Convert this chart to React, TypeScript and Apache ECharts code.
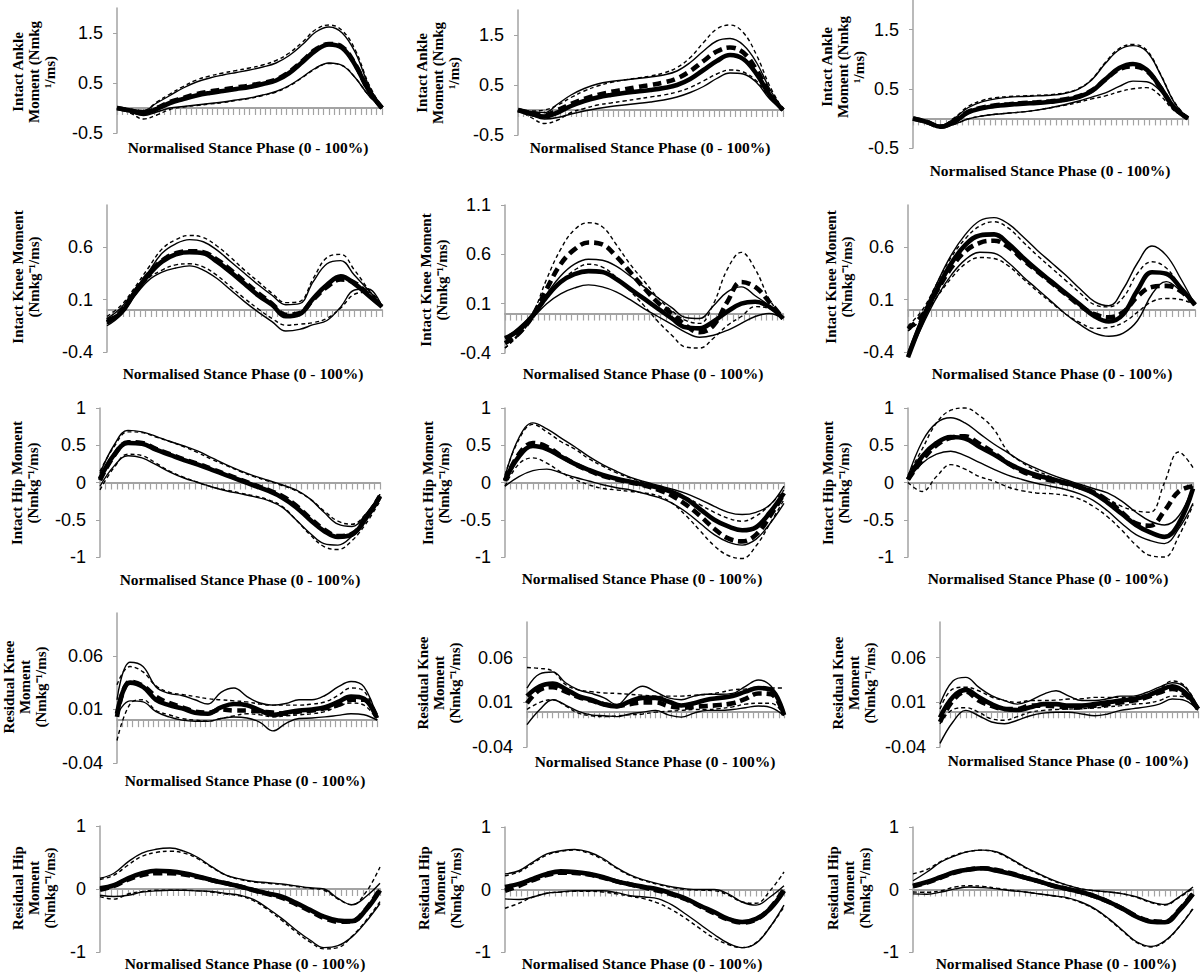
import React, { useEffect, useRef } from "react";
import * as echarts from "echarts";

// Normalised stance phase sample points (%)
const xs = [0, 5, 10, 15, 20, 25, 30, 35, 40, 45, 50, 55, 60, 65, 70, 75, 80, 85, 90, 95, 100];

// ---------- Row 1: Intact Ankle Moment ----------
const p11MeanSolid = [0, -0.05, -0.1, -0.02, 0.1, 0.18, 0.25, 0.3, 0.34, 0.38, 0.42, 0.48, 0.55, 0.7, 0.92, 1.15, 1.27, 1.2, 0.85, 0.35, 0];
const p11MeanDash = [0, -0.05, -0.1, 0, 0.12, 0.2, 0.28, 0.33, 0.37, 0.41, 0.45, 0.5, 0.57, 0.72, 0.94, 1.17, 1.28, 1.22, 0.86, 0.35, 0];
const p11UpSolid = [0, -0.03, -0.05, 0.1, 0.25, 0.4, 0.52, 0.6, 0.66, 0.71, 0.76, 0.82, 0.9, 1.05, 1.27, 1.52, 1.62, 1.5, 1.1, 0.45, 0];
const p11UpDash = [0, -0.03, -0.05, 0.12, 0.28, 0.43, 0.56, 0.64, 0.7, 0.75, 0.8, 0.86, 0.95, 1.1, 1.32, 1.57, 1.66, 1.55, 1.15, 0.48, 0];
const p11LoSolid = [0, -0.08, -0.15, -0.08, 0, 0.03, 0.06, 0.09, 0.12, 0.16, 0.2, 0.26, 0.33, 0.45, 0.62, 0.8, 0.9, 0.85, 0.6, 0.25, 0];
const p11LoDash = [0, -0.1, -0.22, -0.14, -0.03, 0.02, 0.05, 0.08, 0.11, 0.15, 0.19, 0.25, 0.32, 0.44, 0.61, 0.79, 0.89, 0.85, 0.6, 0.25, 0];

const p12MeanSolid = [0, -0.08, -0.13, -0.05, 0.08, 0.18, 0.25, 0.3, 0.34, 0.37, 0.4, 0.44, 0.5, 0.62, 0.8, 0.98, 1.1, 1.02, 0.72, 0.3, 0];
const p12MeanDash = [0, -0.06, -0.1, 0, 0.12, 0.22, 0.3, 0.36, 0.41, 0.46, 0.5, 0.55, 0.63, 0.78, 0.98, 1.17, 1.25, 1.15, 0.8, 0.33, 0];
const p12UpSolid = [0, -0.03, -0.05, 0.12, 0.3, 0.43, 0.52, 0.57, 0.6, 0.63, 0.66, 0.7, 0.78, 0.95, 1.18, 1.38, 1.43, 1.3, 0.95, 0.42, 0];
const p12UpDash = [0, -0.02, 0, 0.1, 0.25, 0.38, 0.48, 0.55, 0.6, 0.64, 0.68, 0.74, 0.85, 1.05, 1.35, 1.62, 1.7, 1.55, 1.1, 0.48, 0];
const p12LoSolid = [0, -0.1, -0.18, -0.15, -0.08, -0.02, 0.03, 0.07, 0.1, 0.13, 0.16, 0.2, 0.26, 0.35, 0.47, 0.63, 0.74, 0.72, 0.55, 0.22, 0];
const p12LoDash = [0, -0.15, -0.27, -0.2, -0.05, 0.03, 0.1, 0.14, 0.18, 0.22, 0.26, 0.3, 0.36, 0.45, 0.58, 0.72, 0.8, 0.76, 0.58, 0.25, 0];

const p13MeanSolid = [0, -0.06, -0.14, -0.06, 0.1, 0.17, 0.21, 0.23, 0.25, 0.26, 0.28, 0.31, 0.36, 0.46, 0.66, 0.85, 0.92, 0.82, 0.52, 0.18, 0];
const p13MeanDash = [0, -0.06, -0.14, -0.05, 0.11, 0.18, 0.22, 0.24, 0.26, 0.27, 0.29, 0.32, 0.37, 0.47, 0.66, 0.83, 0.88, 0.8, 0.52, 0.18, 0];
const p13UpSolid = [0, -0.05, -0.12, 0, 0.18, 0.28, 0.33, 0.36, 0.37, 0.38, 0.39, 0.42, 0.49, 0.65, 0.93, 1.16, 1.23, 1.13, 0.74, 0.27, 0];
const p13UpDash = [0, -0.05, -0.12, 0.01, 0.2, 0.3, 0.35, 0.37, 0.38, 0.39, 0.4, 0.43, 0.5, 0.66, 0.95, 1.18, 1.25, 1.15, 0.75, 0.28, 0];
const p13LoSolid = [0, -0.06, -0.15, -0.1, -0.01, 0.04, 0.07, 0.09, 0.11, 0.14, 0.18, 0.23, 0.29, 0.36, 0.43, 0.54, 0.63, 0.62, 0.46, 0.16, 0];
const p13LoDash = [0, -0.06, -0.15, -0.1, -0.01, 0.04, 0.07, 0.09, 0.11, 0.14, 0.18, 0.22, 0.27, 0.33, 0.38, 0.45, 0.5, 0.52, 0.38, 0.13, 0];

// ---------- Row 2: Intact Knee Moment ----------
const p21MeanSolid = [-0.1, -0.03, 0.16, 0.33, 0.46, 0.53, 0.55, 0.54, 0.46, 0.36, 0.25, 0.14, 0.05, -0.06, -0.04, 0.11, 0.24, 0.32, 0.25, 0.14, 0.03];
const p21MeanDash = [-0.12, -0.02, 0.17, 0.34, 0.47, 0.54, 0.56, 0.55, 0.48, 0.38, 0.27, 0.16, 0.06, -0.045, -0.03, 0.1, 0.22, 0.29, 0.26, 0.15, 0.03];
const p21UpSolid = [-0.08, 0.02, 0.19, 0.36, 0.54, 0.63, 0.67, 0.65, 0.57, 0.46, 0.35, 0.24, 0.14, 0.05, 0.06, 0.27, 0.44, 0.47, 0.33, 0.19, 0.04];
const p21UpDash = [-0.06, 0.04, 0.21, 0.4, 0.58, 0.67, 0.71, 0.69, 0.61, 0.5, 0.38, 0.27, 0.16, 0.07, 0.08, 0.3, 0.5, 0.53, 0.38, 0.2, 0.04];
const p21LoSolid = [-0.15, -0.05, 0.13, 0.28, 0.36, 0.4, 0.42, 0.38, 0.3, 0.19, 0.08, -0.02, -0.11, -0.2, -0.185, -0.14, -0.1, 0.03, 0.19, 0.2, 0.03];
const p21LoDash = [-0.13, -0.04, 0.14, 0.3, 0.38, 0.43, 0.44, 0.41, 0.33, 0.22, 0.11, 0.01, -0.08, -0.145, -0.135, -0.12, -0.08, 0.02, 0.15, 0.17, 0.04];

const p22MeanSolid = [-0.25, -0.17, -0.02, 0.17, 0.32, 0.4, 0.43, 0.42, 0.35, 0.25, 0.15, 0.05, -0.05, -0.14, -0.15, -0.08, 0.02, 0.1, 0.12, 0.07, -0.05];
const p22MeanDash = [-0.3, -0.2, -0.02, 0.25, 0.5, 0.65, 0.72, 0.7, 0.58, 0.42, 0.26, 0.11, 0, -0.12, -0.19, -0.12, 0.12, 0.32, 0.27, 0.12, -0.05];
const p22UpSolid = [-0.25, -0.14, 0, 0.2, 0.38, 0.5, 0.55, 0.54, 0.48, 0.38, 0.27, 0.16, 0.06, -0.04, -0.05, 0.08, 0.22, 0.27, 0.18, 0.08, -0.05];
const p22UpDash = [-0.35, -0.2, 0, 0.35, 0.65, 0.85, 0.92, 0.88, 0.7, 0.5, 0.33, 0.16, 0.03, -0.07, -0.1, 0.1, 0.45, 0.62, 0.45, 0.15, -0.05];
const p22LoSolid = [-0.25, -0.16, -0.04, 0.1, 0.2, 0.26, 0.29, 0.27, 0.22, 0.14, 0.05, -0.03, -0.11, -0.19, -0.24, -0.22, -0.17, -0.1, -0.03, 0, -0.05];
const p22LoDash = [-0.35, -0.22, -0.05, 0.15, 0.32, 0.44, 0.5, 0.47, 0.37, 0.23, 0.08, -0.08, -0.22, -0.34, -0.35, -0.25, -0.12, -0.03, 0.07, 0.05, -0.05];

const p23MeanSolid = [-0.45, -0.1, 0.19, 0.44, 0.62, 0.71, 0.72, 0.63, 0.5, 0.38, 0.27, 0.16, 0.05, -0.06, -0.11, -0.04, 0.19, 0.36, 0.345, 0.21, 0.05];
const p23MeanDash = [-0.18, -0.05, 0.18, 0.4, 0.56, 0.64, 0.66, 0.6, 0.48, 0.37, 0.26, 0.15, 0.04, -0.04, -0.07, -0.02, 0.13, 0.22, 0.23, 0.18, 0.05];
const p23UpSolid = [-0.4, -0.05, 0.25, 0.52, 0.72, 0.85, 0.88, 0.82, 0.7, 0.57, 0.45, 0.33, 0.2, 0.08, 0.04, 0.2, 0.45, 0.61, 0.52, 0.3, 0.05];
const p23UpDash = [-0.15, 0, 0.25, 0.5, 0.68, 0.8, 0.84, 0.78, 0.65, 0.52, 0.4, 0.28, 0.16, 0.05, 0.03, 0.12, 0.35, 0.46, 0.4, 0.22, 0.05];
const p23LoSolid = [-0.45, -0.15, 0.12, 0.33, 0.48, 0.55, 0.54, 0.45, 0.32, 0.2, 0.08, -0.04, -0.14, -0.22, -0.25, -0.22, -0.1, 0.15, 0.27, 0.18, 0.05];
const p23LoDash = [-0.2, -0.08, 0.12, 0.3, 0.44, 0.5, 0.49, 0.42, 0.3, 0.18, 0.07, -0.04, -0.12, -0.175, -0.165, -0.12, -0.02, 0.08, 0.11, 0.1, 0.05];

// ---------- Row 3: Intact Hip Moment ----------
const p31MeanSolid = [0.05, 0.37, 0.53, 0.52, 0.44, 0.37, 0.3, 0.24, 0.17, 0.1, 0.03, -0.04, -0.11, -0.2, -0.33, -0.5, -0.65, -0.73, -0.7, -0.48, -0.19];
const p31MeanDash = [0.03, 0.36, 0.54, 0.53, 0.45, 0.38, 0.31, 0.25, 0.18, 0.11, 0.04, -0.03, -0.1, -0.18, -0.31, -0.48, -0.63, -0.72, -0.69, -0.47, -0.18];
const p31UpSolid = [0.12, 0.5, 0.7, 0.68, 0.62, 0.55, 0.49, 0.42, 0.33, 0.24, 0.16, 0.09, 0.03, -0.03, -0.1, -0.22, -0.4, -0.56, -0.59, -0.42, -0.16];
const p31UpDash = [0.15, 0.48, 0.68, 0.67, 0.61, 0.55, 0.48, 0.4, 0.31, 0.23, 0.15, 0.08, 0.02, -0.04, -0.11, -0.22, -0.38, -0.52, -0.56, -0.42, -0.16];
const p31LoSolid = [-0.05, 0.22, 0.36, 0.33, 0.24, 0.14, 0.06, 0, -0.06, -0.11, -0.15, -0.19, -0.24, -0.33, -0.5, -0.68, -0.82, -0.84, -0.72, -0.5, -0.23];
const p31LoDash = [-0.1, 0.2, 0.38, 0.36, 0.26, 0.15, 0.07, 0, -0.06, -0.1, -0.14, -0.18, -0.23, -0.32, -0.5, -0.7, -0.86, -0.9, -0.78, -0.55, -0.25];

const p32MeanSolid = [0.03, 0.35, 0.49, 0.45, 0.35, 0.25, 0.17, 0.1, 0.05, 0.01, -0.03, -0.07, -0.13, -0.22, -0.36, -0.5, -0.59, -0.64, -0.6, -0.4, -0.14];
const p32MeanDash = [0.02, 0.38, 0.53, 0.48, 0.36, 0.25, 0.16, 0.09, 0.04, 0, -0.04, -0.1, -0.18, -0.3, -0.45, -0.62, -0.75, -0.79, -0.7, -0.45, -0.15];
const p32UpSolid = [0.08, 0.6, 0.8, 0.72, 0.6, 0.48, 0.35, 0.24, 0.15, 0.07, 0.01, -0.04, -0.09, -0.15, -0.23, -0.32, -0.4, -0.43, -0.4, -0.3, -0.05];
const p32UpDash = [0.1, 0.58, 0.78, 0.68, 0.55, 0.45, 0.32, 0.22, 0.13, 0.06, 0, -0.06, -0.12, -0.2, -0.3, -0.4, -0.48, -0.52, -0.45, -0.3, -0.1];
const p32LoSolid = [-0.05, 0.08, 0.16, 0.18, 0.13, 0.07, 0.02, -0.03, -0.07, -0.1, -0.15, -0.2, -0.28, -0.4, -0.55, -0.7, -0.8, -0.84, -0.76, -0.55, -0.28];
const p32LoDash = [-0.05, 0.25, 0.33, 0.26, 0.14, 0.04, -0.03, -0.08, -0.1, -0.12, -0.14, -0.18, -0.28, -0.45, -0.65, -0.85, -0.98, -1.02, -0.85, -0.55, -0.23];

const p33MeanSolid = [0.04, 0.35, 0.53, 0.61, 0.59, 0.48, 0.38, 0.26, 0.17, 0.1, 0.05, 0, -0.06, -0.14, -0.27, -0.42, -0.57, -0.67, -0.73, -0.55, -0.08];
const p33MeanDash = [0.04, 0.3, 0.5, 0.6, 0.62, 0.52, 0.4, 0.26, 0.15, 0.08, 0.03, -0.01, -0.06, -0.13, -0.24, -0.4, -0.55, -0.58, -0.38, -0.12, -0.05];
const p33UpSolid = [0.08, 0.55, 0.8, 0.87, 0.8, 0.66, 0.52, 0.4, 0.28, 0.19, 0.11, 0.04, -0.02, -0.08, -0.14, -0.25, -0.4, -0.52, -0.57, -0.45, -0.05];
const p33UpDash = [0.1, 0.45, 0.8, 0.97, 1.0, 0.9, 0.72, 0.42, 0.27, 0.16, 0.08, 0, -0.06, -0.14, -0.22, -0.32, -0.38, -0.4, 0, 0.41, 0.2];
const p33LoSolid = [0.04, 0.26, 0.38, 0.42, 0.36, 0.27, 0.18, 0.1, 0.04, -0.01, -0.05, -0.09, -0.15, -0.24, -0.38, -0.55, -0.7, -0.78, -0.82, -0.62, -0.28];
const p33LoDash = [0, -0.12, 0.08, 0.24, 0.18, 0.08, 0.02, -0.06, -0.11, -0.14, -0.15, -0.17, -0.22, -0.32, -0.46, -0.64, -0.84, -0.98, -1.0, -0.72, -0.3];

// ---------- Row 4: Residual Knee Moment ----------
const p41MeanSolid = [0.006, 0.035, 0.031, 0.019, 0.014, 0.011, 0.007, 0.006, 0.012, 0.015, 0.014, 0.009, 0.005, 0.007, 0.009, 0.01, 0.012, 0.017, 0.022, 0.02, 0.002];
const p41MeanDash = [0.003, 0.036, 0.032, 0.022, 0.016, 0.012, 0.008, 0.007, 0.01, 0.009, 0.009, 0.008, 0.007, 0.006, 0.008, 0.009, 0.011, 0.014, 0.019, 0.019, 0.002];
const p41UpSolid = [0.019, 0.054, 0.05, 0.031, 0.025, 0.023, 0.019, 0.015, 0.026, 0.03, 0.022, 0.016, 0.014, 0.0155, 0.019, 0.019, 0.023, 0.031, 0.036, 0.031, 0.002];
const p41UpDash = [0.033, 0.05, 0.045, 0.032, 0.026, 0.024, 0.022, 0.02, 0.019, 0.018, 0.017, 0.015, 0.014, 0.014, 0.014, 0.015, 0.017, 0.023, 0.03, 0.027, 0.002];
const p41LoSolid = [0.005, 0.018, 0.017, 0.008, 0.003, 0, -0.001, -0.001, 0.0015, 0.003, 0.002, -0.002, -0.01, -0.003, 0.0015, 0.002, 0.003, 0.0045, 0.006, 0.005, 0];
const p41LoDash = [-0.019, 0.015, 0.019, 0.009, 0.005, 0.0015, 0, -0.001, 0.0015, 0.004, 0.006, 0.005, 0.003, 0.004, 0.005, 0.006, 0.008, 0.013, 0.016, 0.014, 0];

const p42MeanSolid = [0.017, 0.028, 0.031, 0.025, 0.017, 0.013, 0.0075, 0.0055, 0.011, 0.015, 0.015, 0.011, 0.0065, 0.009, 0.013, 0.015, 0.017, 0.022, 0.026, 0.024, -0.004];
const p42MeanDash = [0.009, 0.024, 0.027, 0.022, 0.016, 0.012, 0.008, 0.006, 0.008, 0.01, 0.01, 0.006, 0.004, 0.005, 0.006, 0.007, 0.009, 0.014, 0.02, 0.019, -0.004];
const p42UpSolid = [0.026, 0.042, 0.044, 0.032, 0.024, 0.02, 0.015, 0.0075, 0.02, 0.028, 0.022, 0.015, 0.013, 0.017, 0.019, 0.019, 0.02, 0.028, 0.035, 0.028, 0];
const p42UpDash = [0.049, 0.048, 0.045, 0.03, 0.024, 0.022, 0.0205, 0.02, 0.019, 0.018, 0.017, 0.017, 0.017, 0.018, 0.019, 0.021, 0.024, 0.025, 0.026, 0.026, 0.026];
const p42LoSolid = [-0.015, 0.002, 0.013, 0.007, 0, -0.004, -0.005, -0.006, -0.003, -0.001, 0.001, -0.004, -0.0065, -0.002, 0.001, 0.001, 0.002, 0.004, 0.006, 0.004, -0.005];
const p42LoDash = [0.002, 0.01, 0.013, 0.006, -0.002, -0.005, -0.006, -0.005, -0.004, -0.003, -0.001, 0, 0.001, 0.002, 0.002, 0.003, 0.005, 0.008, 0.009, 0.009, -0.004];

const p43MeanSolid = [-0.007, 0.016, 0.024, 0.016, 0.008, 0.0026, 0.0015, 0.0044, 0.008, 0.008, 0.0063, 0.0063, 0.008, 0.01, 0.012, 0.0137, 0.017, 0.023, 0.028, 0.021, 0.0026];
const p43MeanDash = [-0.012, 0.012, 0.022, 0.012, 0.006, 0.0026, 0.0026, 0.0063, 0.0063, 0.0055, 0.004, 0.0045, 0.0063, 0.008, 0.01, 0.012, 0.0156, 0.021, 0.025, 0.019, 0.0026];
const p43UpSolid = [0.008, 0.034, 0.038, 0.027, 0.0175, 0.012, 0.008, 0.012, 0.019, 0.023, 0.017, 0.012, 0.012, 0.014, 0.017, 0.017, 0.021, 0.027, 0.032, 0.027, 0.004];
const p43UpDash = [0.0026, 0.025, 0.027, 0.023, 0.016, 0.012, 0.01, 0.012, 0.012, 0.0125, 0.0137, 0.014, 0.0156, 0.0156, 0.0156, 0.016, 0.019, 0.025, 0.034, 0.028, 0.004];
const p43LoSolid = [-0.036, -0.012, 0.001, -0.005, -0.012, -0.014, -0.01, -0.005, -0.002, -0.001, -0.001, -0.003, -0.005, -0.003, 0.001, 0.003, 0.005, 0.008, 0.0137, 0.012, 0.001];
const p43LoDash = [-0.014, 0.002, 0.004, -0.001, -0.0085, -0.01, -0.006, -0.001, 0.001, 0.002, 0.0026, 0.003, 0.0037, 0.005, 0.0063, 0.008, 0.009, 0.012, 0.017, 0.016, 0.0015];

// ---------- Row 5: Residual Hip Moment ----------
const p51MeanSolid = [0.01, 0.06, 0.17, 0.25, 0.29, 0.28, 0.25, 0.2, 0.14, 0.09, 0.04, -0.02, -0.07, -0.12, -0.22, -0.33, -0.44, -0.5, -0.51, -0.33, -0.02];
const p51MeanDash = [-0.01, 0.05, 0.15, 0.22, 0.25, 0.25, 0.23, 0.19, 0.14, 0.09, 0.04, -0.02, -0.08, -0.14, -0.24, -0.35, -0.46, -0.52, -0.51, -0.32, 0];
const p51UpSolid = [0.17, 0.25, 0.43, 0.57, 0.63, 0.65, 0.6, 0.5, 0.35, 0.22, 0.16, 0.12, 0.1, 0.08, 0.05, 0.02, 0, -0.15, -0.25, -0.12, 0.09];
const p51UpDash = [0.15, 0.22, 0.38, 0.52, 0.58, 0.6, 0.57, 0.48, 0.34, 0.22, 0.15, 0.11, 0.09, 0.07, 0.04, 0.01, -0.02, -0.16, -0.25, -0.05, 0.35];
const p51LoSolid = [-0.1, -0.12, -0.1, -0.05, -0.03, -0.02, -0.02, -0.03, -0.04, -0.07, -0.1, -0.17, -0.31, -0.47, -0.65, -0.81, -0.93, -0.9, -0.76, -0.52, -0.23];
const p51LoDash = [-0.12, -0.16, -0.08, -0.04, -0.02, -0.02, -0.02, -0.03, -0.05, -0.08, -0.11, -0.19, -0.33, -0.5, -0.68, -0.84, -0.95, -0.93, -0.75, -0.5, -0.2];

const p52MeanSolid = [0.04, 0.09, 0.17, 0.25, 0.29, 0.28, 0.25, 0.2, 0.13, 0.08, 0.04, 0, -0.07, -0.15, -0.26, -0.36, -0.47, -0.52, -0.47, -0.31, -0.02];
const p52MeanDash = [-0.02, 0.06, 0.15, 0.23, 0.27, 0.265, 0.24, 0.19, 0.13, 0.08, 0.03, -0.02, -0.08, -0.16, -0.27, -0.38, -0.48, -0.53, -0.48, -0.3, 0];
const p52UpSolid = [0.25, 0.3, 0.44, 0.57, 0.62, 0.64, 0.6, 0.5, 0.35, 0.23, 0.15, 0.09, 0.04, 0.01, 0, 0, -0.07, -0.2, -0.25, -0.12, 0.06];
const p52UpDash = [0.22, 0.28, 0.42, 0.55, 0.61, 0.63, 0.58, 0.48, 0.34, 0.22, 0.14, 0.08, 0.03, 0, -0.01, -0.02, -0.09, -0.2, -0.22, -0.02, 0.28];
const p52LoSolid = [-0.15, -0.16, -0.12, -0.06, -0.04, -0.02, -0.02, -0.02, -0.05, -0.1, -0.12, -0.15, -0.25, -0.4, -0.56, -0.72, -0.86, -0.93, -0.86, -0.6, -0.25];
const p52LoDash = [-0.3, -0.22, -0.12, -0.06, -0.04, -0.03, -0.03, -0.04, -0.07, -0.11, -0.15, -0.22, -0.33, -0.47, -0.63, -0.78, -0.88, -0.93, -0.85, -0.6, -0.28];

const p53MeanSolid = [0.06, 0.12, 0.2, 0.28, 0.32, 0.34, 0.3, 0.25, 0.19, 0.13, 0.06, 0.01, -0.04, -0.11, -0.2, -0.31, -0.44, -0.515, -0.525, -0.34, -0.07];
const p53MeanDash = [0.05, 0.11, 0.19, 0.27, 0.32, 0.34, 0.31, 0.26, 0.19, 0.13, 0.06, 0.01, -0.04, -0.11, -0.2, -0.31, -0.43, -0.505, -0.515, -0.33, -0.06];
const p53UpSolid = [0.14, 0.28, 0.44, 0.54, 0.61, 0.63, 0.6, 0.49, 0.36, 0.25, 0.15, 0.07, 0.01, -0.02, -0.04, -0.07, -0.12, -0.2, -0.24, -0.12, 0.04];
const p53UpDash = [0.25, 0.32, 0.45, 0.55, 0.61, 0.63, 0.59, 0.48, 0.35, 0.24, 0.14, 0.07, 0.01, -0.02, -0.04, -0.07, -0.13, -0.21, -0.25, -0.13, 0.02];
const p53LoSolid = [-0.07, -0.075, -0.04, 0.01, 0.04, 0.03, 0.01, -0.02, -0.04, -0.07, -0.1, -0.13, -0.2, -0.31, -0.47, -0.66, -0.84, -0.91, -0.82, -0.6, -0.31];
const p53LoDash = [-0.04, -0.045, -0.02, 0.04, 0.06, 0.05, 0.02, -0.01, -0.04, -0.07, -0.1, -0.14, -0.21, -0.32, -0.48, -0.67, -0.85, -0.92, -0.83, -0.6, -0.3];

// ---------- Axis ranges / tick labels ----------
const ankleTicks = [-0.5, 0.5, 1.5];
const kneeTicks = [-0.4, 0.1, 0.6];
const kneeTicksWide = [-0.4, 0.1, 0.6, 1.1];
const hipTicks = [-1, -0.5, 0, 0.5, 1];
const resKneeTicks = [-0.04, 0.01, 0.06];
const resHipTicks = [-1, 0, 1];

const xTitle = "Normalised Stance Phase (0 - 100%)";
const ankleTitle = ["Intact Ankle", "Moment (Nmkg", "\u00b9/ms)"];
const kneeTitle = ["Intact Knee Moment", "(Nmkg\u207b\u00b9/ms)"];
const hipTitle = ["Intact Hip Moment", "(Nmkg\u207b\u00b9/ms)"];
const resKneeTitle = ["Residual Knee", "Moment", "(Nmkg\u207b\u00b9/ms)"];
const resHipTitle = ["Residual Hip", "Moment", "(Nmkg\u207b\u00b9/ms)"];

type Panel = {
  grid: [number, number, number, number];
  yMin: number;
  yMax: number;
  ticks: number[];
  lines: number[][]; // meanSolid, meanDash, upSolid, upDash, loSolid, loDash
  xt: [number, number];
  yt: [number, number];
  title: string[];
};

const panels: Panel[] = [
  { grid: [117, 8, 265, 125], yMin: -0.5, yMax: 2, ticks: ankleTicks, lines: [p11MeanSolid, p11MeanDash, p11UpSolid, p11UpDash, p11LoSolid, p11LoDash], xt: [248, 147], yt: [34, 72], title: ankleTitle },
  { grid: [518, 10, 265, 125], yMin: -0.5, yMax: 2, ticks: ankleTicks, lines: [p12MeanSolid, p12MeanDash, p12UpSolid, p12UpDash, p12LoSolid, p12LoDash], xt: [650, 147], yt: [438, 73], title: ankleTitle },
  { grid: [913, 0, 275, 148], yMin: -0.5, yMax: 2, ticks: ankleTicks, lines: [p13MeanSolid, p13MeanDash, p13UpSolid, p13UpDash, p13LoSolid, p13LoDash], xt: [1050, 170], yt: [843, 67], title: ankleTitle },

  { grid: [107, 205, 275, 147], yMin: -0.4, yMax: 1.0, ticks: kneeTicks, lines: [p21MeanSolid, p21MeanDash, p21UpSolid, p21UpDash, p21LoSolid, p21LoDash], xt: [243, 373], yt: [26, 277], title: kneeTitle },
  { grid: [505, 205, 278, 148], yMin: -0.4, yMax: 1.1, ticks: kneeTicksWide, lines: [p22MeanSolid, p22MeanDash, p22UpSolid, p22UpDash, p22LoSolid, p22LoDash], xt: [643, 373], yt: [434, 280], title: kneeTitle },
  { grid: [908, 205, 287, 147], yMin: -0.4, yMax: 1.0, ticks: kneeTicks, lines: [p23MeanSolid, p23MeanDash, p23UpSolid, p23UpDash, p23LoSolid, p23LoDash], xt: [1052, 373], yt: [839, 277], title: kneeTitle },

  { grid: [100, 408, 280, 149], yMin: -1, yMax: 1, ticks: hipTicks, lines: [p31MeanSolid, p31MeanDash, p31UpSolid, p31UpDash, p31LoSolid, p31LoDash], xt: [240, 579], yt: [25, 483], title: hipTitle },
  { grid: [505, 408, 279, 149], yMin: -1, yMax: 1, ticks: hipTicks, lines: [p32MeanSolid, p32MeanDash, p32UpSolid, p32UpDash, p32LoSolid, p32LoDash], xt: [642, 578], yt: [436, 483], title: hipTitle },
  { grid: [908, 408, 285, 149], yMin: -1, yMax: 1, ticks: hipTicks, lines: [p33MeanSolid, p33MeanDash, p33UpSolid, p33UpDash, p33LoSolid, p33LoDash], xt: [1048, 578], yt: [836, 483], title: hipTitle },

  { grid: [117, 613, 260, 150], yMin: -0.04, yMax: 0.1, ticks: resKneeTicks, lines: [p41MeanSolid, p41MeanDash, p41UpSolid, p41UpDash, p41LoSolid, p41LoDash], xt: [245, 780], yt: [25, 687], title: resKneeTitle },
  { grid: [527, 622, 257, 125], yMin: -0.04, yMax: 0.1, ticks: resKneeTicks, lines: [p42MeanSolid, p42MeanDash, p42UpSolid, p42UpDash, p42LoSolid, p42LoDash], xt: [655, 761], yt: [439, 683], title: resKneeTitle },
  { grid: [940, 622, 258, 125], yMin: -0.04, yMax: 0.1, ticks: resKneeTicks, lines: [p43MeanSolid, p43MeanDash, p43UpSolid, p43UpDash, p43LoSolid, p43LoDash], xt: [1068, 760], yt: [854, 683], title: resKneeTitle },

  { grid: [100, 826, 280, 126], yMin: -1, yMax: 1, ticks: resHipTicks, lines: [p51MeanSolid, p51MeanDash, p51UpSolid, p51UpDash, p51LoSolid, p51LoDash], xt: [245, 963], yt: [34, 888], title: resHipTitle },
  { grid: [505, 827, 279, 125], yMin: -1, yMax: 1, ticks: resHipTicks, lines: [p52MeanSolid, p52MeanDash, p52UpSolid, p52UpDash, p52LoSolid, p52LoDash], xt: [642, 963], yt: [440, 888], title: resHipTitle },
  { grid: [913, 827, 280, 125], yMin: -1, yMax: 1, ticks: resHipTicks, lines: [p53MeanSolid, p53MeanDash, p53UpSolid, p53UpDash, p53LoSolid, p53LoDash], xt: [1056, 963], yt: [849, 888], title: resHipTitle },
];

const AXIS_GREY = "#a3a3a3";

function buildOption() {
  const grid: any[] = [];
  const xAxis: any[] = [];
  const yAxis: any[] = [];
  const series: any[] = [];
  const graphic: any[] = [];

  panels.forEach((p, i) => {
    const [left, top, width, height] = p.grid;
    grid.push({ left, top, width, height, containLabel: false });
    xAxis.push({
      gridIndex: i,
      type: "value",
      min: 0,
      max: 100,
      interval: 2,
      axisLine: { show: true, onZero: true, lineStyle: { color: AXIS_GREY, width: 2 } },
      axisTick: { show: true, length: 7, lineStyle: { color: AXIS_GREY, width: 1.2 } },
      axisLabel: { show: false },
      splitLine: { show: false },
    });
    yAxis.push({
      gridIndex: i,
      type: "value",
      min: p.yMin,
      max: p.yMax,
      axisLine: { show: true, onZero: false, lineStyle: { color: AXIS_GREY, width: 1.5 } },
      axisTick: { show: true, length: 4, customValues: p.ticks, lineStyle: { color: AXIS_GREY } },
      axisLabel: {
        show: true,
        customValues: p.ticks,
        fontSize: 18,
        color: "#000",
        fontFamily: "'Liberation Sans', Arial, sans-serif",
        margin: 14,
        formatter: (v: number) => String(v),
      },
      splitLine: { show: false },
    });

    const styles = [
      { w: 4.6, dash: "solid", z: 5 },
      { w: 4.6, dash: [9, 5], z: 4 },
      { w: 1.4, dash: "solid", z: 3 },
      { w: 1.4, dash: [4, 3], z: 2 },
      { w: 1.4, dash: "solid", z: 3 },
      { w: 1.4, dash: [4, 3], z: 2 },
    ];
    p.lines.forEach((vals, k) => {
      const s = styles[k];
      series.push({
        type: "line",
        xAxisIndex: i,
        yAxisIndex: i,
        data: xs.map((x, j) => [x, vals[j]]),
        smooth: 0.4,
        symbol: "none",
        showSymbol: false,
        clip: false,
        silent: true,
        z: s.z,
        lineStyle: { color: "#000", width: s.w, type: s.dash, cap: "butt" },
      });
    });

    graphic.push({
      type: "text",
      x: p.xt[0],
      y: p.xt[1],
      silent: true,
      style: {
        text: xTitle,
        font: "bold 15.5px 'Liberation Serif', 'Times New Roman', serif",
        fill: "#000",
        textAlign: "center",
        textVerticalAlign: "middle",
      },
    });
    graphic.push({
      type: "text",
      x: p.yt[0],
      y: p.yt[1],
      rotation: Math.PI / 2,
      silent: true,
      style: {
        text: p.title.join("\n"),
        font: "bold 15px 'Liberation Serif', 'Times New Roman', serif",
        lineHeight: 16,
        fill: "#000",
        textAlign: "center",
        textVerticalAlign: "middle",
      },
    });
  });

  return {
    animation: false,
    backgroundColor: "#fff",
    grid,
    xAxis,
    yAxis,
    series,
    graphic,
  };
}

export default function App() {
  const ref = useRef<HTMLDivElement>(null);
  useEffect(() => {
    if (!ref.current) return;
    const chart = echarts.init(ref.current, undefined, { renderer: "svg" });
    chart.setOption(buildOption() as any);
    return () => chart.dispose();
  }, []);
  return (
    <div
      ref={ref}
      style={{ position: "absolute", left: 0, top: 0, width: 1200, height: 973, background: "#fff" }}
    />
  );
}
